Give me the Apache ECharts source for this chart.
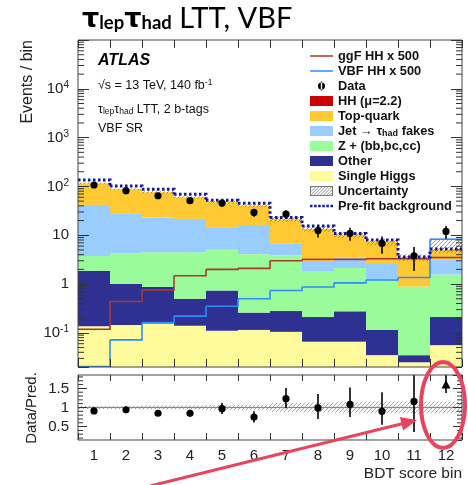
<!DOCTYPE html>
<html><head><meta charset="utf-8">
<script src="https://cdn.jsdelivr.net/npm/echarts@6/dist/echarts.min.js"></script>
<style>html,body{margin:0;padding:0;background:#fff}#c{width:468px;height:485px}</style>
</head><body><div id="c"></div>
<script>
// ---------------- data ----------------
const bins = ['1','2','3','4','5','6','7','8','9','10','11','12'];
const singleHiggs = [0.136,0.145,0.155,0.14,0.11,0.115,0.105,0.066,0.066,0.035,0.025,0.056];
const other       = [1.74,0.86,0.72,0.36,0.63,0.145,0.175,0.145,0.21,0.08,0.01,0.155];
const zPlusHF     = [1.89,3.2,3.63,4.0,4.46,3.84,3.62,1.59,1.86,1.1,0.855,1.36];
const jetFakes    = [38.0,24.0,18.4,17.2,9.4,12.1,2.95,1.2,1.36,1.48,0.0,1.53];
const topQuark    = [74,59,53,38,33,24,14.6,10.5,6.8,4.6,2.6,1.9];
const hhMu22      = [0.003,0.004,0.006,0.008,0.01,0.012,0.015,0.016,0.018,0.02,0.02,0.03];
const ggfHHx500   = [0.119,0.44,0.76,1.48,2.0,2.1,3.0,3.2,3.2,3.3,3.3,3.5];
const vbfHHx500   = [0.0205,0.072,0.163,0.22,0.35,0.5,0.74,0.87,1.06,1.21,1.36,8.3];
const preFitBkg   = [136,102,87.5,69,52,45,23.2,15.4,10.9,8.0,3.6,5.2];
const dataEvents  = [107,82,64.5,51,45.7,29.3,27,12.5,11,6.8,3.8,12];
const dataErr     = [10.3,9,8,7.1,6.8,5.4,5.2,3.5,3.3,2.6,1.95,3.5];
const uncDown     = [0.04,0.04,0.05,0.05,0.06,0.07,0.12,0.13,0.14,0.15,0.15,0.15];
const uncUp       = [0.04,0.04,0.05,0.05,0.06,0.07,0.12,0.13,0.14,0.15,0.15,0.58];
const ratioUnc    = [0.04,0.04,0.05,0.05,0.06,0.07,0.12,0.13,0.14,0.15,0.15,0.15];
const ratioVal    = [0.91,0.94,0.85,0.85,0.97,0.75,1.23,0.99,1.08,0.90,1.16,1.59];
const ratioErrLo  = [0.05,0.07,0.07,0.09,0.14,0.14,0.25,0.29,0.33,0.35,0.8,0.21];
const ratioErrHi  = [0.05,0.07,0.07,0.09,0.15,0.15,0.28,0.36,0.44,0.5,1.2,0.5];
const ratioMarker = ['circle','circle','circle','circle','circle','circle','circle','circle','circle','circle','circle','triangle'];
const mainTickLabels = [0.1,1,10,100,1000,10000];
const ratioTickLabels = [0.5,1,1.5];

// ---------------- config ----------------
const Y_MIN = 0.02, Y_MAX = 1e5, R_MIN = 0.15, R_MAX = 1.85;
const FONT = "'Liberation Sans', Arial, sans-serif";
const layers = [
  {name:'Single Higgs', vals:singleHiggs, color:'#fffb9c'},
  {name:'Other', vals:other, color:'#2e3192'},
  {name:'Z + (bb,bc,cc)', vals:zPlusHF, color:'#99fb99'},
  {name:'Jet \u2192 \u03c4had fakes', vals:jetFakes, color:'#99ccff'},
  {name:'Top-quark', vals:topQuark, color:'#ffc933'},
  {name:'HH (\u03bc=2.2)', vals:hhMu22, color:'#cc0000'}
];
const cum = bins.map(() => 0);
const layerData = layers.map(l => l.vals.map((v, i) => {
  const lo = cum[i] > 0 ? cum[i] : Y_MIN;
  cum[i] += v;
  return [i, lo, cum[i]];
}));
const total = cum.slice();

function bw(api){ return api.coord([1, 1])[0] - api.coord([0, 1])[0]; }
function hatch(x0, y0, x1, y1, step, color){
  const out = [];
  const start = Math.ceil((x0 + y0) / step) * step;
  for (let c = start; c <= x1 + y1; c += step) {
    const xa = Math.max(x0, c - y1), xb = Math.min(x1, c - y0);
    if (xb > xa) out.push({type:'line', shape:{x1:xa, y1:c - xa, x2:xb, y2:c - xb}, style:{stroke:color, lineWidth:0.8}});
  }
  return out;
}
function stepLine(vals){ return vals.map((v, i) => [i, v, i < vals.length - 1 ? vals[i + 1] : v]); }

const series = [];
layers.forEach((l, k) => {
  series.push({
    type:'custom', name:l.name, xAxisIndex:0, yAxisIndex:0, clip:true, z:2,
    data:layerData[k], encode:{x:0, y:[1,2]},
    renderItem:(p, api) => {
      const i = api.value(0), a = api.coord([i, api.value(1)]), b = api.coord([i, api.value(2)]), w = bw(api);
      return {type:'rect', shape:{x:a[0] - w/2, y:b[1], width:w, height:a[1] - b[1]}, style:{fill:l.color}};
    }
  });
});
// uncertainty band (main)
series.push({
  type:'custom', name:'Uncertainty', xAxisIndex:0, yAxisIndex:0, clip:true, z:3,
  data: total.map((t, i) => [i, t * (1 - uncDown[i]), t * (1 + uncUp[i])]), encode:{x:0, y:[1,2]},
  renderItem:(p, api) => {
    const i = api.value(0), a = api.coord([i, api.value(1)]), b = api.coord([i, api.value(2)]), w = bw(api);
    return {type:'group', children: hatch(a[0] - w/2, b[1], a[0] + w/2, a[1], 4, '#7a7a7a')};
  }
});
function lineSeries(name, vals, color, width, dash){
  return {
    type:'custom', name, xAxisIndex:0, yAxisIndex:0, clip:true, z:4,
    data: stepLine(vals), encode:{x:0, y:1},
    renderItem:(p, api) => {
      const i = api.value(0), a = api.coord([i, api.value(1)]), b = api.coord([i, api.value(2)]), w = bw(api);
      const pts = [[a[0] - w/2, a[1]], [a[0] + w/2, a[1]], [a[0] + w/2, b[1]]];
      return {type:'polyline', shape:{points:pts}, style:{stroke:color, lineWidth:width, fill:null, lineDash:dash || null}};
    }
  };
}
series.push(lineSeries('ggF HH x 500', ggfHHx500, '#a8382f', 1.6));
series.push(lineSeries('VBF HH x 500', vbfHHx500, '#2f8cff', 1.6));
series.push(lineSeries('Pre-fit background', preFitBkg, '#1515a3', 3, [2.5, 2.5]));
// data points
series.push({
  type:'custom', name:'Data', xAxisIndex:0, yAxisIndex:0, clip:true, z:5,
  data: dataEvents.map((v, i) => [i, v, dataErr[i]]), encode:{x:0, y:1},
  renderItem:(p, api) => {
    const i = api.value(0), v = api.value(1), e = api.value(2);
    const c = api.coord([i, v]), lo = api.coord([i, Math.max(v - e, Y_MIN)]), hi = api.coord([i, v + e]);
    return {type:'group', children:[
      {type:'line', shape:{x1:c[0], y1:lo[1], x2:c[0], y2:hi[1]}, style:{stroke:'#000', lineWidth:1.6}},
      {type:'circle', shape:{cx:c[0], cy:c[1], r:3.6}, style:{fill:'#000'}}
    ]};
  }
});
// log minor ticks (main)
series.push({
  type:'custom', xAxisIndex:0, yAxisIndex:0, clip:false, silent:true, z:6, data:[[0, 1]], encode:{x:0, y:1},
  renderItem:(p, api) => {
    const cs = p.coordSys, ch = [];
    for (let e = -2; e <= 4; e++) for (let m = 2; m <= 9; m++) {
      const v = m * Math.pow(10, e);
      if (v <= Y_MIN || v >= Y_MAX) continue;
      const y = api.coord([0, v])[1];
      ch.push({type:'line', shape:{x1:cs.x, y1:y, x2:cs.x + 6, y2:y}, style:{stroke:'#333', lineWidth:1}});
      ch.push({type:'line', shape:{x1:cs.x + cs.width - 6, y1:y, x2:cs.x + cs.width, y2:y}, style:{stroke:'#333', lineWidth:1}});
    }
    return {type:'group', children:ch};
  }
});
// ratio band + unity line
series.push({
  type:'custom', xAxisIndex:2, yAxisIndex:2, clip:true, z:3,
  data: ratioUnc.map((u, i) => [i, 1 - u, 1 + u]), encode:{x:0, y:[1,2]},
  renderItem:(p, api) => {
    const i = api.value(0), a = api.coord([i, api.value(1)]), b = api.coord([i, api.value(2)]), m = api.coord([i, 1]), w = bw(api);
    const ch = hatch(a[0] - w/2, b[1], a[0] + w/2, a[1], 4, '#8a8a8a');
    ch.push({type:'line', shape:{x1:a[0] - w/2, y1:m[1], x2:a[0] + w/2, y2:m[1]}, style:{stroke:'#888', lineWidth:1.2}});
    return {type:'group', children:ch};
  }
});
// ratio points
series.push({
  type:'custom', xAxisIndex:2, yAxisIndex:2, clip:true, z:5,
  data: ratioVal.map((r, i) => [i, r, ratioErrLo[i], ratioErrHi[i]]), encode:{x:0, y:1},
  renderItem:(p, api) => {
    const i = api.value(0), r = api.value(1);
    const c = api.coord([i, r]), lo = api.coord([i, r - api.value(2)]), hi = api.coord([i, r + api.value(3)]);
    const mk = ratioMarker[i] === 'triangle'
      ? {type:'polygon', shape:{points:[[c[0], c[1] - 5], [c[0] - 4.5, c[1] + 3.5], [c[0] + 4.5, c[1] + 3.5]]}, style:{fill:'#000'}}
      : {type:'circle', shape:{cx:c[0], cy:c[1], r:3.6}, style:{fill:'#000'}};
    return {type:'group', children:[
      {type:'line', shape:{x1:c[0], y1:lo[1], x2:c[0], y2:hi[1]}, style:{stroke:'#000', lineWidth:1.6}}, mk]};
  }
});
// ratio minor ticks
series.push({
  type:'custom', xAxisIndex:2, yAxisIndex:2, clip:false, silent:true, z:6, data:[[0, 1]], encode:{x:0, y:1},
  renderItem:(p, api) => {
    const cs = p.coordSys, ch = [];
    for (let k = 2; k <= 18; k++) {
      if (k % 5 === 0) continue;
      const y = api.coord([0, k / 10])[1];
      ch.push({type:'line', shape:{x1:cs.x, y1:y, x2:cs.x + 5, y2:y}, style:{stroke:'#333', lineWidth:1}});
      ch.push({type:'line', shape:{x1:cs.x + cs.width - 5, y1:y, x2:cs.x + cs.width, y2:y}, style:{stroke:'#333', lineWidth:1}});
    }
    return {type:'group', children:ch};
  }
});

// ---------------- legend icons ----------------
const BB = 'M0,0h0.01v0.01h-0.01zM22.99,9.99h0.01v0.01h-0.01z';
const lineIcon = 'path://' + BB + 'M0,4.2h23v1.6h-23z';
let dots = 'path://' + BB; for (let x = 0; x < 23; x += 4.2) dots += 'M' + x + ',3.7h2.6v2.6h-2.6z';
const dataIcon = 'path://' + BB + 'M8,5a3.5,3.5 0 1,0 7,0a3.5,3.5 0 1,0 -7,0zM10.8,0.5h1.4v9h-1.4z';
let uncIcon = 'path://M0,0h23v10h-23zM1,1v8h21v-8z';
for (let c = 3; c < 33; c += 3.2) {
  const xa = Math.max(1, c - 9), xb = Math.min(22, c - 1);
  if (xb > xa) uncIcon += 'M' + xa + ',' + (c - xa) + 'L' + xb + ',' + (c - xb) + 'L' + (xb + 0.8) + ',' + (c - xb) + 'L' + (xa + 0.8) + ',' + (c - xa) + 'Z';
}
const legendFont = {fontFamily:FONT, fontWeight:'bold', fontSize:12.8, color:'#111', lineHeight:14};

const yMainAxis = (pos, show) => ({
  type:'log', logBase:10, gridIndex:0, position:pos, min:Y_MIN, max:Y_MAX, z:6,
  axisLine:{show:false}, splitLine:{show:false},
  axisTick:{show:true, inside:true, length:11, lineStyle:{color:'#333'}},
  axisLabel:{show:show, margin:9, fontFamily:FONT, fontSize:15, color:'#222', lineHeight:17,
    formatter: v => {
      if (!mainTickLabels.some(t => Math.abs(t - v) < 1e-6 * t)) return '';
      const e = Math.round(Math.log10(v));
      if (e === 0) return '1';
      if (e === 1) return '10';
      return '10{sup|' + e + '}';
    },
    rich:{sup:{fontFamily:FONT, fontSize:10, lineHeight:10, verticalAlign:'top', color:'#222'}}}
});
const yRatioAxis = (pos, show) => ({
  type:'value', gridIndex:1, position:pos, min:R_MIN, max:R_MAX, splitNumber:3, z:6,
  axisLine:{show:false}, splitLine:{show:false},
  axisTick:{show:true, inside:true, length:9, lineStyle:{color:'#333'}},
  axisLabel:{show:show, margin:9, fontFamily:FONT, fontSize:15, color:'#222', showMinLabel:false, showMaxLabel:false,
    formatter: v => ratioTickLabels.some(t => Math.abs(t - v) < 1e-6) ? String(+v.toFixed(1)) : ''}
});
const xAx = (grid, pos, labels, len) => ({
  type:'category', gridIndex:grid, position:pos, data:bins, z:6,
  axisLine:{show:false}, splitLine:{show:false},
  axisTick:{show:true, inside:true, length:len, interval:0, lineStyle:{color:'#333'}},
  axisLabel:{show:labels, interval:0, margin:8, fontFamily:FONT, fontSize:15, color:'#222'}
});

const option = {
  animation:false,
  backgroundColor:'#fff',
  grid:[
    {left:78, top:40, width:384, height:327, show:true, borderColor:'#444', borderWidth:1, z:6},
    {left:78, top:375, width:384, height:65, show:true, borderColor:'#444', borderWidth:1, z:6}
  ],
  xAxis:[xAx(0,'bottom',false,8), xAx(0,'top',false,8), xAx(1,'bottom',true,7), xAx(1,'top',false,6)],
  yAxis:[yMainAxis('left', true), yMainAxis('right', false), yRatioAxis('left', true), yRatioAxis('right', false)],
  legend:{
    left:310, top:49, orient:'vertical', padding:0, itemWidth:23, itemHeight:10, itemGap:1.0, selectedMode:false,
    textStyle:Object.assign({rich:{t:legendFont, s:Object.assign({}, legendFont, {fontSize:9, lineHeight:6, verticalAlign:'bottom'})}}, legendFont),
    formatter: n => n.indexOf('\u03c4had') >= 0 ? '{t|Jet \u2192 \u03c4}{s|had}{t| fakes}' : '{t|' + n + '}',
    data:[
      {name:'ggF HH x 500', icon:lineIcon, itemStyle:{color:'#a8382f', borderWidth:0}},
      {name:'VBF HH x 500', icon:lineIcon, itemStyle:{color:'#2f8cff', borderWidth:0}},
      {name:'Data', icon:dataIcon, itemStyle:{color:'#000', borderWidth:0}},
      {name:'HH (\u03bc=2.2)', icon:'rect', itemStyle:{color:'#cc0000', borderWidth:0}},
      {name:'Top-quark', icon:'rect', itemStyle:{color:'#ffc933', borderWidth:0}},
      {name:'Jet \u2192 \u03c4had fakes', icon:'rect', itemStyle:{color:'#99ccff', borderWidth:0}},
      {name:'Z + (bb,bc,cc)', icon:'rect', itemStyle:{color:'#99fb99', borderWidth:0}},
      {name:'Other', icon:'rect', itemStyle:{color:'#2e3192', borderWidth:0}},
      {name:'Single Higgs', icon:'rect', itemStyle:{color:'#fffb9c', borderWidth:0}},
      {name:'Uncertainty', icon:uncIcon, itemStyle:{color:'#777', borderWidth:0}},
      {name:'Pre-fit background', icon:dots, itemStyle:{color:'#1515a3', borderWidth:0}}
    ]
  },
  graphic:[
    {type:'text', left:82, top:4, z:10, style:{
      text:'{b|\u03c4}{s|lep}{b|\u03c4}{s|had}{n| LTT, VBF}', fill:'#000',
      rich:{
        b:{fontFamily:"'DejaVu Sans', sans-serif", fontWeight:'bold', fontSize:27, lineHeight:31, verticalAlign:'bottom'},
        s:{fontFamily:"Lato, sans-serif", fontWeight:'bold', fontSize:18.5, lineHeight:10, verticalAlign:'bottom'},
        n:{fontFamily:"Lato, sans-serif", fontSize:29, lineHeight:31, verticalAlign:'bottom'}
      }}},
    {type:'text', x:98, y:61, z:10, style:{text:'ATLAS', font:"italic bold 16px 'Liberation Sans', Arial", fill:'#000', verticalAlign:'middle'}},
    {type:'text', x:98, y:85, z:10, style:{text:'{n|\u221as = 13 TeV, 140 fb}{p|-1}', fill:'#111', verticalAlign:'middle',
      rich:{n:{fontFamily:FONT, fontSize:12.5, lineHeight:14, verticalAlign:'bottom'}, p:{fontFamily:FONT, fontSize:8.5, lineHeight:9, verticalAlign:'top'}}}},
    {type:'text', x:98, y:109, z:10, style:{text:'{n|\u03c4}{s|lep}{n|\u03c4}{s|had}{n| LTT, 2 b-tags}', fill:'#111', verticalAlign:'middle',
      rich:{n:{fontFamily:FONT, fontSize:12.5, lineHeight:14, verticalAlign:'bottom'}, s:{fontFamily:FONT, fontSize:8.5, lineHeight:5, verticalAlign:'bottom'}}}},
    {type:'text', x:98, y:129, z:10, style:{text:'VBF SR', font:"12.5px 'Liberation Sans', Arial", fill:'#111', verticalAlign:'middle'}},
    {type:'text', x:28, y:40, rotation:Math.PI/2, z:10, style:{text:'Events / bin', font:"16px 'Liberation Sans', Arial", fill:'#222', align:'right', verticalAlign:'middle'}},
    {type:'text', x:31.5, y:408, rotation:Math.PI/2, z:10, style:{text:'Data/Pred.', font:"15px 'Liberation Sans', Arial", fill:'#222', align:'center', verticalAlign:'middle'}},
    {type:'text', x:462, y:474, z:10, style:{text:'BDT score bin', font:"15.5px 'Liberation Sans', Arial", fill:'#222', align:'right', verticalAlign:'middle'}},
    {type:'ellipse', z:20, shape:{cx:443, cy:405, rx:22, ry:43}, style:{stroke:'#e8445f', lineWidth:4, fill:null}},
    {type:'line', z:20, shape:{x1:150, y1:486, x2:402, y2:423.8}, style:{stroke:'#e8445f', lineWidth:3}},
    {type:'polygon', z:20, shape:{points:[[417,420],[403.2,430.6],[399.8,417.0]]}, style:{fill:'#e8445f'}}
  ],
  series
};
const chart = echarts.init(document.getElementById('c'), null, {renderer:'canvas'});
chart.setOption(option);
</script></body></html>
